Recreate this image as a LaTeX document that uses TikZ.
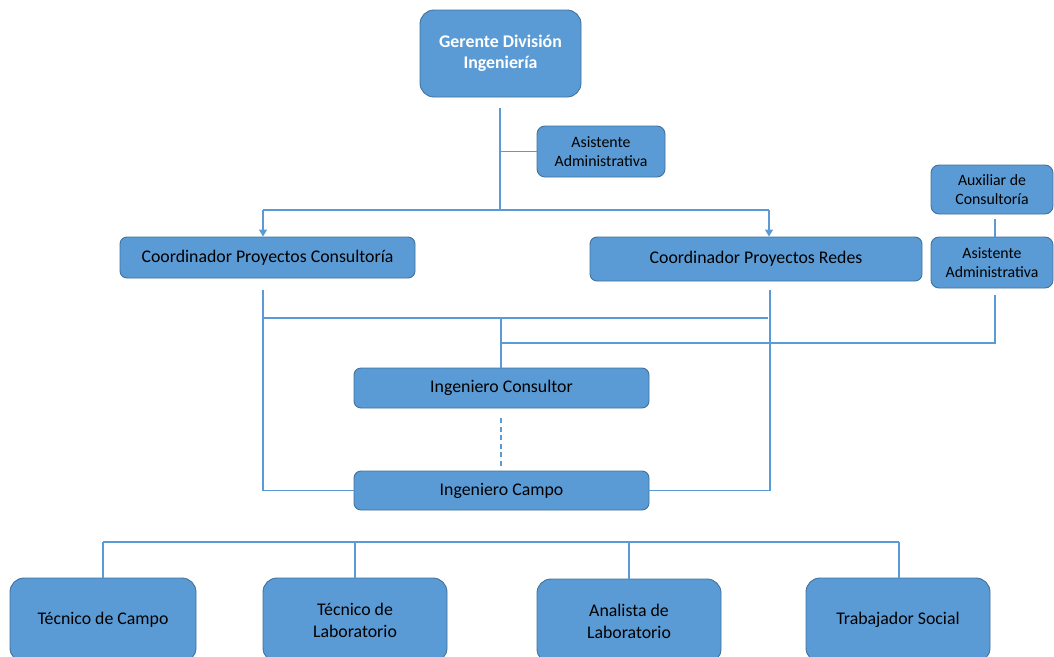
\documentclass[tikz,border=0pt]{standalone}
\usepackage{fontspec}
\setmainfont{Carlito}
\usetikzlibrary{arrows.meta}
\definecolor{boxfill}{HTML}{5B9BD5}
\definecolor{boxline}{HTML}{41719C}
\definecolor{wire}{HTML}{5B9BD5}
\begin{document}
\begin{tikzpicture}[x=1pt,y=-1pt,
  box/.style={draw=boxline, line width=0.9pt, fill=boxfill, rounded corners=7pt,
    align=center, inner sep=0pt, text=black,
    font=\fontsize{17.8}{22}\selectfont},
  smallbox/.style={box, rounded corners=8pt, font=\fontsize{15.8}{19}\selectfont},
  bigbox/.style={box, rounded corners=14pt},
  headbox/.style={bigbox, text=white, font=\bfseries\fontsize{17.8}{21}\selectfont},
  wire/.style={draw=wire, line width=1.2pt},
  arr/.style={wire, -{Triangle[length=7pt,width=8pt]}},
  dashwire/.style={wire, dash pattern=on 5pt off 3.5pt}
]
\useasboundingbox (0,0) rectangle (1054,656);
\clip (0,0) rectangle (1054,656);

% boxes
\node[headbox, minimum width=161pt, minimum height=87pt] (ger) at (500.5,53.5) {Gerente División\\Ingeniería};
\node[smallbox, minimum width=128pt, minimum height=51pt] (asa) at (601,151.5) {Asistente\\Administrativa};
\node[box, minimum width=295pt, minimum height=41pt] (cpc) at (267.5,257.5) {Coordinador Proyectos Consultoría};
\node[box, minimum width=332pt, minimum height=44pt] (cpr) at (756,259) {Coordinador Proyectos Redes};
\node[smallbox, minimum width=122pt, minimum height=49pt] (aux) at (992,189.5) {Auxiliar de\\Consultoría};
\node[smallbox, minimum width=122pt, minimum height=51pt] (asb) at (992,262.5) {Asistente\\Administrativa};
\node[box, minimum width=295pt, minimum height=40pt] (ic) at (501.5,388) {Ingeniero Consultor};
\node[box, minimum width=295pt, minimum height=39pt] (icp) at (501.5,490.5) {Ingeniero Campo};
\node[bigbox, minimum width=186pt, minimum height=84pt] (tc) at (103,620) {Técnico de Campo};
\node[bigbox, minimum width=184pt, minimum height=84pt] (tl) at (355,620) {Técnico de\\Laboratorio};
\node[bigbox, minimum width=184pt, minimum height=84pt] (al) at (629,621) {Analista de\\Laboratorio};
\node[bigbox, minimum width=184pt, minimum height=84pt] (ts) at (898,620) {Trabajador Social};

% junction points
\coordinate (g1) at (500,108);
\coordinate (g2) at (500,210);
\coordinate (ja) at (263,210);
\coordinate (jb) at (769,210);
\coordinate (c1) at (263,290);
\coordinate (r1) at (770,290);
\coordinate (h1) at (263,318);
\coordinate (h2) at (768,318);
\coordinate (h3) at (501,318);
\coordinate (x1) at (995,219);
\coordinate (x2) at (995,237);
\coordinate (y1) at (995,295);
\coordinate (y2) at (995,343);
\coordinate (y3) at (500,343);
\coordinate (d1) at (501,418);
\coordinate (d2) at (501,468);
\coordinate (b1) at (103,542);
\coordinate (b2) at (899,542);

% manager to coordinators
\draw[wire] (g1) -- (g2);
\draw[wire] (g1 |- asa.west) -- (asa.west);
\draw[wire] (ja) -- (jb);
\draw[arr] (ja) -- (ja |- cpc.north);
\draw[arr] (jb) -- (jb |- cpr.north);

% support staff on the right
\draw[wire] (x1) -- (x2);
\draw[wire] (y1) -- (y2) -- (y3);

% coordinators to engineers
\draw[wire] (h1) -- (h2);
\draw[wire] (h3) -- (h3 |- ic.north);
\draw[wire] (c1) -- (c1 |- icp.west) -- (icp.west);
\draw[wire] (r1) -- (r1 |- icp.east) -- (icp.east);
\draw[dashwire] (d1) -- (d2);

% field engineer to technical staff
\draw[wire] (b1) -- (b2);
\draw[wire] (b1) -- (tc.north);
\draw[wire] (tl.north |- b1) -- (tl.north);
\draw[wire] (al.north |- b1) -- (al.north);
\draw[wire] (b2) -- (b2 |- ts.north);
\end{tikzpicture}
\end{document}
